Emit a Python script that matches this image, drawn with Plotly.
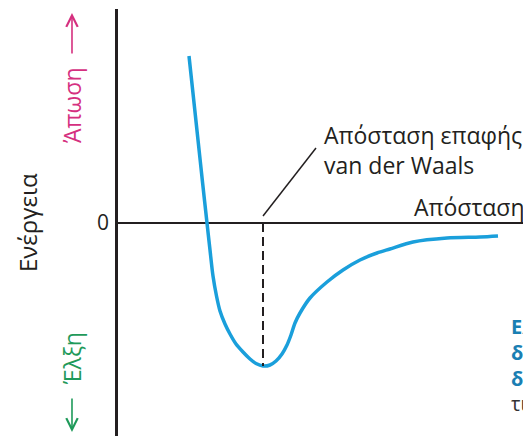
import plotly.graph_objects as go

# Potential energy curve (arbitrary units)
distance = [7.1, 7.55, 8.0, 8.45, 8.9, 9.2, 9.5, 9.85, 10.2, 10.7, 11.2, 11.8, 12.5, 13.2, 13.8, 14.5,
            15.2, 15.8, 16.4, 16.9, 17.3, 17.7, 18.2, 19.2, 20.9, 22.5, 24.2, 25.9, 27.2, 29.5,
            32.9, 36.2, 38.0]
energy = [16.7, 12.5, 8.3, 4.1, 0.0, -2.7, -5.3, -7.3, -8.8, -10.1, -11.1, -12.1, -12.9, -13.6, -14.05,
          -14.3, -14.2, -13.8, -13.1, -12.2, -11.2, -10.0, -9.0, -7.5, -5.9, -4.7, -3.7, -3.0, -2.6,
          -1.9, -1.5, -1.4, -1.3]

vdw_distance = 14.5
vdw_energy = -14.3
leader_x = [14.5, 19.8]
leader_y = [0.7, 7.5]

y_tick_vals = [0]
y_tick_text = ["0"]

FONT = "Open Sans, DejaVu Sans, sans-serif"
INK = "#231f20"
MAGENTA = "#d5307f"
GREEN = "#1f9a5a"

fig = go.Figure()

fig.add_trace(go.Scatter(x=distance, y=energy, mode="lines",
                         line=dict(color="#1a9fdb", width=3.5, shape="spline", smoothing=0.8),
                         hoverinfo="skip"))
fig.add_trace(go.Scatter(x=[vdw_distance, vdw_distance], y=[0, vdw_energy], mode="lines",
                         line=dict(color=INK, width=2, dash="9px,5px"), hoverinfo="skip"))
fig.add_trace(go.Scatter(x=leader_x, y=leader_y, mode="lines",
                         line=dict(color=INK, width=1.5), hoverinfo="skip"))

annotations = [
    dict(x=20.4, y=7.3, text="Απόσταση επαφής<br>van der Waals", xanchor="left", yanchor="middle",
         align="left", font=dict(size=23, color=INK)),
    dict(x=40.9, y=1.6, text="Απόσταση", xanchor="right", yanchor="middle",
         font=dict(size=23, color=INK)),
    dict(x=-0.2203, y=0.0, text="Ενέργεια", textangle=-90, xanchor="center", yanchor="middle",
         xref="paper", font=dict(size=24, color=INK)),
    dict(x=-0.1114, y=11.8, text="Άπωση", textangle=-90, xanchor="center", yanchor="middle",
         xref="paper", font=dict(size=23, color=MAGENTA)),
    dict(x=-0.1114, y=-13.5, text="Έλξη", textangle=-90, xanchor="center", yanchor="middle",
         xref="paper", font=dict(size=23, color=GREEN)),
    dict(x=39.1, y=-10.3, text="<b>Ελ</b>", xanchor="left", yanchor="middle",
         font=dict(size=20, color="#1a7fb3")),
    dict(x=39.1, y=-12.9, text="<b>δρ</b>", xanchor="left", yanchor="middle",
         font=dict(size=20, color="#1a7fb3")),
    dict(x=39.1, y=-15.5, text="<b>δι</b>", xanchor="left", yanchor="middle",
         font=dict(size=20, color="#1a7fb3")),
    dict(x=39.1, y=-18.0, text="τι", xanchor="left", yanchor="middle",
         font=dict(size=20, color="#333333")),
]
for a in annotations:
    a.setdefault("xref", "x")
    a.update(yref="y", showarrow=False)

# direction arrows beside the energy axis
annotations += [
    dict(x=-0.1114, y=21.0, xref="paper", yref="y", text="", showarrow=True, ax=0, ay=42,
         arrowhead=5, arrowsize=1.4, arrowwidth=1.6, arrowcolor=MAGENTA, standoff=0),
    dict(x=-0.1114, y=-20.9, xref="paper", yref="y", text="", showarrow=True, ax=0, ay=-35,
         arrowhead=5, arrowsize=1.4, arrowwidth=1.6, arrowcolor=GREEN, standoff=0),
]

# The page adds an 8px body margin, so the figure is 8px smaller to fit the window.
fig.update_layout(
    width=523, height=428,
    margin=dict(l=110, r=0, t=1, b=0),
    paper_bgcolor="white", plot_bgcolor="white",
    showlegend=False,
    font=dict(family=FONT, color=INK),
    annotations=annotations,
    xaxis=dict(range=[0, 41.3], showgrid=False, zeroline=False, showticklabels=False,
               showline=False, fixedrange=True),
    yaxis=dict(range=[-21.3, 21.4], showgrid=False, zeroline=True, zerolinecolor=INK,
               zerolinewidth=2, showline=True, linecolor=INK, linewidth=2.5,
               tickvals=y_tick_vals, ticktext=y_tick_text, ticks="",
               tickfont=dict(size=21, color=INK), ticklabelstandoff=2, fixedrange=True),
)

fig.write_html("out.html", config={"displayModeBar": False})
